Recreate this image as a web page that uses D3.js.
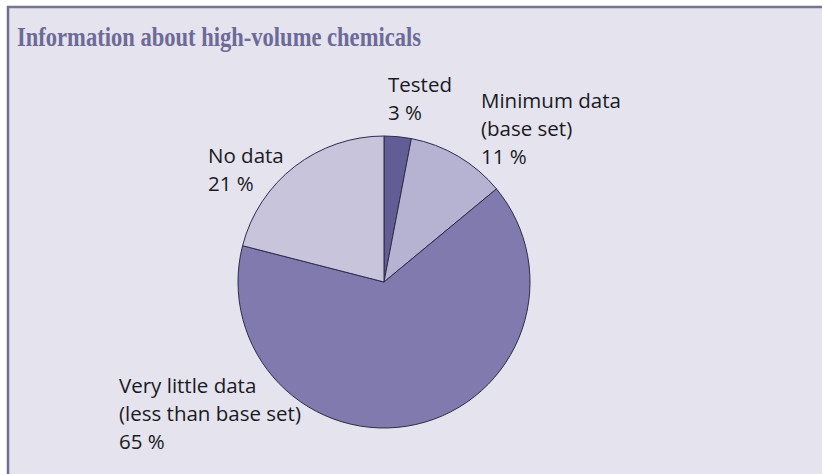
<!DOCTYPE html>
<html><head><meta charset="utf-8">
<script src="https://cdn.jsdelivr.net/npm/d3@7"></script>
<style>
html,body{margin:0;padding:0;background:#fff;}
svg{display:block;}
</style></head>
<body>
<svg id="chart" width="822" height="474"></svg>
<script>
const categories = ["Tested", "Minimum data (base set)", "Very little data (less than base set)", "No data"];
const values = [3, 11, 65, 21];
const labelLines = [["Tested", "3 %"], ["Minimum data", "(base set)", "11 %"], ["Very little data", "(less than base set)", "65 %"], ["No data", "21 %"]];
const colors = ["#625e95", "#b6b3d2", "#807aae", "#c7c4dc"];

const svg = d3.select("#chart");
// panel
svg.append("rect").attr("x", 8).attr("y", 7).attr("width", 814).attr("height", 467).attr("fill", "#e4e3ee");
svg.append("line").attr("x1", 7).attr("x2", 822).attr("y1", 7).attr("y2", 7).attr("stroke", "#76758e").attr("stroke-width", 2.5);
svg.append("line").attr("x1", 8).attr("x2", 8).attr("y1", 6).attr("y2", 474).attr("stroke", "#6f6d90").attr("stroke-width", 2.5);

svg.append("text").attr("x", 17).attr("y", 46)
  .attr("font-family", "'Liberation Serif', 'DejaVu Serif', serif").attr("font-weight", "bold")
  .attr("font-size", 27).attr("fill", "#6d6a98").attr("textLength", 404).attr("lengthAdjust", "spacingAndGlyphs")
  .text("Information about high-volume chemicals");

const cx = 384, cy = 282, r = 146;
const pie = d3.pie().sort(null).value(d => d)(values);
const arc = d3.arc().innerRadius(0).outerRadius(r);
const g = svg.append("g").attr("transform", `translate(${cx},${cy})`);
g.selectAll("path").data(pie).join("path")
  .attr("d", arc).attr("fill", (d, i) => colors[i])
  .attr("stroke", "#2e2c48").attr("stroke-width", 1);

const labelPos = [[388, 92], [481, 108], [119, 393], [208, 163]];
const lineH = 28;
labelLines.forEach((lines, i) => {
  const [x, y] = labelPos[i];
  const t = svg.append("text").attr("x", x).attr("y", y)
    .attr("font-family", "'Open Sans', 'Noto Sans', sans-serif").attr("font-size", 20.5)
    .attr("fill", "#1a1a1e");
  lines.forEach((l, j) => t.append("tspan").attr("x", x).attr("dy", j === 0 ? 0 : lineH).text(l));
});
</script>
</body></html>
